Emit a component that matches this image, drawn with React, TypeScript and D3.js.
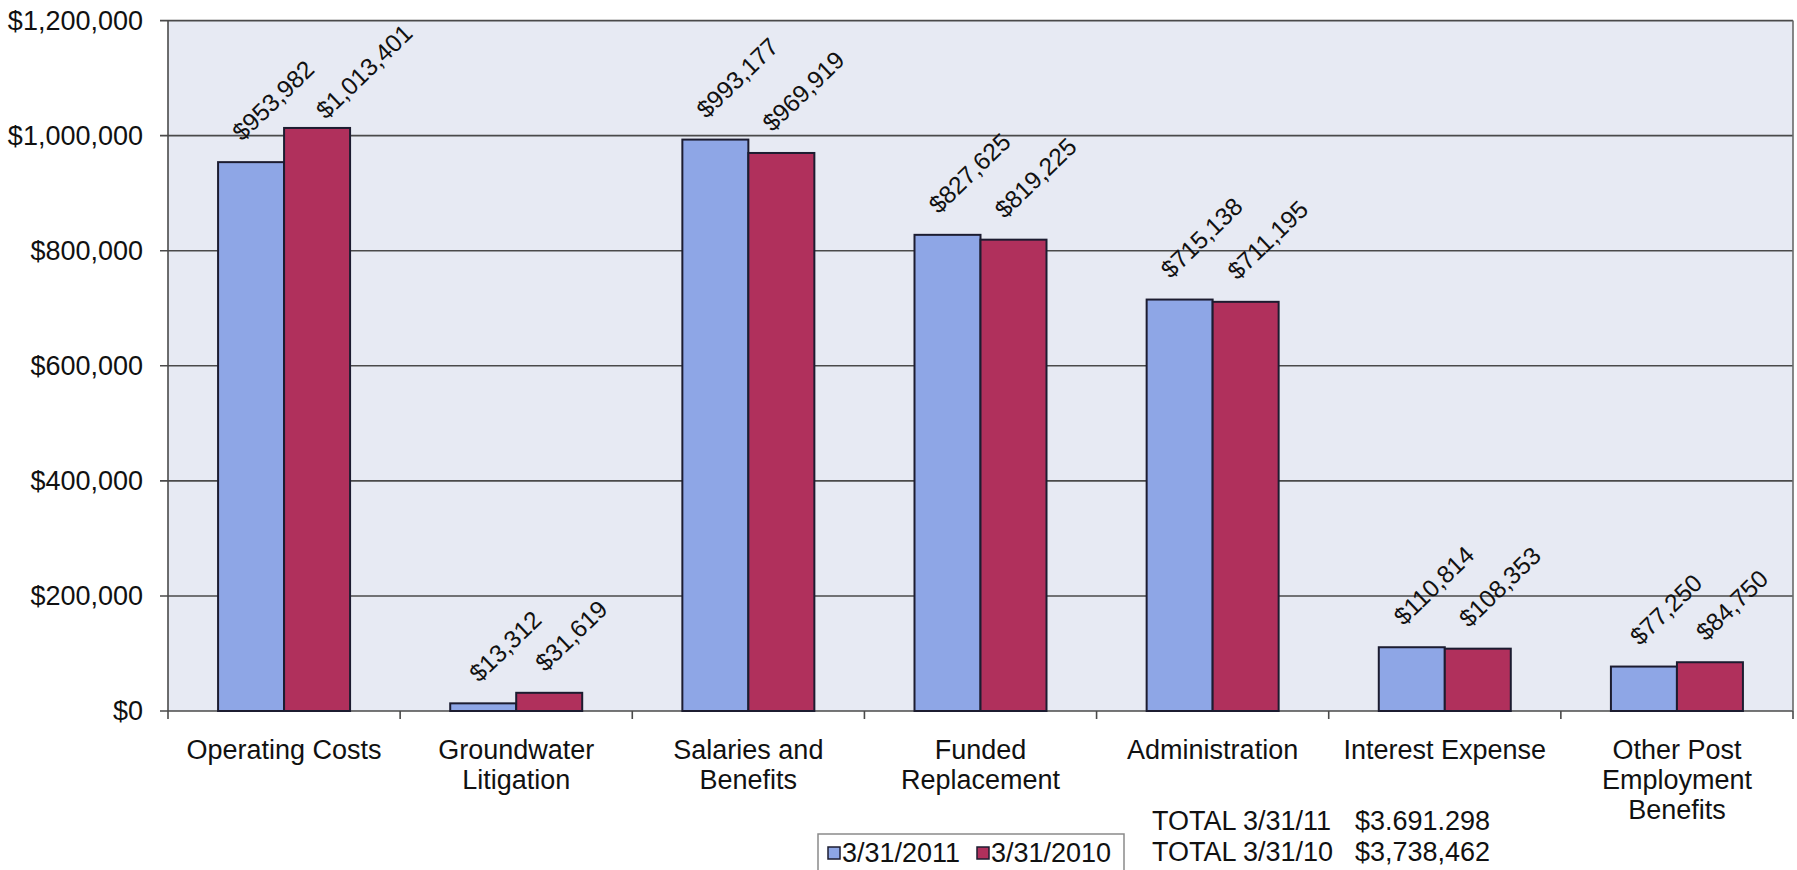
import React from "react";
import * as d3 from "d3";

const categories: string[][] = [
  ["Operating Costs"],
  ["Groundwater", "Litigation"],
  ["Salaries and", "Benefits"],
  ["Funded", "Replacement"],
  ["Administration"],
  ["Interest Expense"],
  ["Other Post", "Employment", "Benefits"],
];
const series2011 = [953982, 13312, 993177, 827625, 715138, 110814, 77250];
const series2010 = [1013401, 31619, 969919, 819225, 711195, 108353, 84750];
const seriesNames = ["3/31/2011", "3/31/2010"];
const yTicks = [0, 200000, 400000, 600000, 800000, 1000000, 1200000];
const totalLabels = ["TOTAL 3/31/11", "TOTAL 3/31/10"];
const totalValues = ["$3.691.298", "$3,738,462"];

const W = 1797;
const H = 870;
const FONT = "'Liberation Sans', Arial, Helvetica, sans-serif";
const BLUE = "#8ea6e6";
const RED = "#b0305c";
const STROKE = "#1c1c30";
const FS = 27;

const m = { left: 168, right: 1793, top: 20.6, bottom: 711 };

function textWidth(s: string, fs: number) {
  let w = 0;
  for (const c of s) {
    if (c === "," || c === ".") w += 0.278;
    else w += 0.556;
  }
  return w * fs;
}

export default function App() {
  const y = d3.scaleLinear().domain([0, 1200000]).range([m.bottom, m.top]);
  const x = d3
    .scaleBand<number>()
    .domain(categories.map((_, i) => i))
    .range([m.left, m.right])
    .padding(0);
  const bw = 66;
  const fmt = (v: number) => "$" + d3.format(",")(v);
  const theta = 44;
  const rad = (theta * Math.PI) / 180;
  const lfs = 24.5;

  const bars: any[] = [];
  const labels: any[] = [];
  [series2011, series2010].forEach((ser, si) => {
    ser.forEach((v, i) => {
      const cx = (x(i) as number) + x.bandwidth() / 2;
      const bx = si === 0 ? cx - bw : cx;
      const top = y(v);
      bars.push(
        <rect
          key={`b${si}-${i}`}
          x={bx}
          y={top}
          width={bw}
          height={m.bottom - top}
          fill={si === 0 ? BLUE : RED}
          stroke={STROKE}
          strokeWidth={2}
        />
      );
      const txt = fmt(v);
      const L = textWidth(txt, lfs);
      const c = 0.36 * lfs;
      const halfH = (L / 2) * Math.sin(rad) + c * Math.cos(rad);
      let ly = top - 20 - halfH;
      let lx = bx + bw / 2 + 22;
      const minY = m.top + 2 + halfH;
      if (ly < minY) {
        lx += (minY - ly) * 2;
        ly = minY;
      }
      labels.push(
        <text
          key={`l${si}-${i}`}
          transform={`translate(${lx},${ly}) rotate(${-theta})`}
          textAnchor="middle"
          dy="0.35em"
          fontSize={lfs}
          fontFamily={FONT}
          fill="#111"
        >
          {txt}
        </text>
      );
    });
  });

  return (
    <svg
      width={W}
      height={H}
      style={{ position: "absolute", left: 0, top: 0, background: "#fff" }}
    >
      <rect
        x={m.left}
        y={m.top}
        width={m.right - m.left}
        height={m.bottom - m.top}
        fill="#e7eaf3"
      />
      {yTicks.map((t) => (
        <g key={t}>
          <line
            x1={m.left - 8}
            x2={m.right}
            y1={y(t)}
            y2={y(t)}
            stroke="#4a4a4a"
            strokeWidth={1.6}
          />
          <text
            x={143}
            y={y(t)}
            dy="0.35em"
            textAnchor="end"
            fontSize={FS}
            fontFamily={FONT}
            fill="#111"
          >
            {"$" + d3.format(",")(t)}
          </text>
        </g>
      ))}
      <line x1={m.left} x2={m.left} y1={m.top} y2={m.bottom} stroke="#4a4a4a" strokeWidth={1.6} />
      <line x1={m.right} x2={m.right} y1={m.top} y2={m.bottom} stroke="#6a6a6a" strokeWidth={1.6} />
      {categories.map((_, i) => (
        <line
          key={`t${i}`}
          x1={x(i) as number}
          x2={x(i) as number}
          y1={m.bottom}
          y2={m.bottom + 8}
          stroke="#4a4a4a"
          strokeWidth={1.6}
        />
      ))}
      <line
        x1={m.right}
        x2={m.right}
        y1={m.bottom}
        y2={m.bottom + 8}
        stroke="#4a4a4a"
        strokeWidth={1.6}
      />
      {bars}
      {labels}
      {categories.map((lines, i) => (
        <text
          key={`c${i}`}
          x={(x(i) as number) + x.bandwidth() / 2}
          y={759}
          textAnchor="middle"
          fontSize={FS}
          fontFamily={FONT}
          fill="#111"
        >
          {lines.map((ln, j) => (
            <tspan key={j} x={(x(i) as number) + x.bandwidth() / 2} dy={j === 0 ? 0 : 30}>
              {ln}
            </tspan>
          ))}
        </text>
      ))}
      <rect x={818} y={834} width={306} height={40} fill="#fff" stroke="#8a8a8a" strokeWidth={1.5} />
      {seriesNames.map((s, i) => (
        <g key={s}>
          <rect
            x={i === 0 ? 828 : 977}
            y={847}
            width={12}
            height={12}
            fill={i === 0 ? BLUE : RED}
            stroke={STROKE}
            strokeWidth={1.5}
          />
          <text
            x={i === 0 ? 842 : 991}
            y={862}
            fontSize={FS}
            fontFamily={FONT}
            fill="#111"
          >
            {s}
          </text>
        </g>
      ))}
      {totalLabels.map((t, i) => (
        <g key={t}>
          <text x={1152} y={829.5 + i * 31} fontSize={FS} fontFamily={FONT} fill="#111">
            {t}
          </text>
          <text x={1355} y={829.5 + i * 31} fontSize={FS} fontFamily={FONT} fill="#111">
            {totalValues[i]}
          </text>
        </g>
      ))}
    </svg>
  );
}
